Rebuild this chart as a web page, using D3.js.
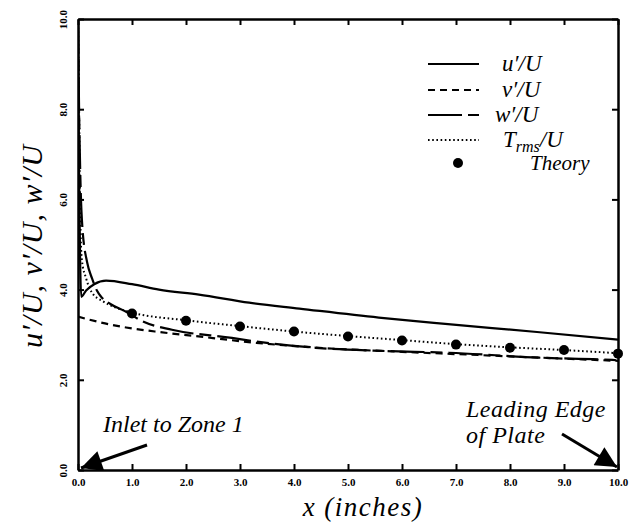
<!DOCTYPE html>
<html>
<head>
<meta charset="utf-8">
<script src="https://cdn.jsdelivr.net/npm/d3@7"></script>
<style>
	body { margin: 0; background: #fff; }
	svg { display: block; }
	text { font-family: "Liberation Serif", "Times New Roman", serif; fill: #000; }
</style>
</head>
<body>
<script>

// data (x in inches, value)
var xTicks = [0, 1, 2, 3, 4, 5, 6, 7, 8, 9, 10]
var yTicks = [0, 2, 4, 6, 8, 10]

var uPrime = [[0, 9.8], [0.02, 6.5], [0.04, 4.6], [0.06, 3.84], [0.15, 3.98], [0.3, 4.12], [0.52, 4.2],
	[1.0, 4.12], [1.5, 4.0], [2.24, 3.89], [3.17, 3.71], [4.1, 3.58], [5.57, 3.38], [6.8, 3.24],
	[8.5, 3.06], [10, 2.89]]

var vPrime = [[0, 3.4], [0.5, 3.25], [0.89, 3.16], [1.5, 3.06], [2.1, 2.98], [3.3, 2.82], [4.6, 2.7],
	[6, 2.62], [7, 2.57], [8, 2.52], [9, 2.47], [10, 2.42]]

var wPrime = [[0, 10], [0.02, 8], [0.05, 6.2], [0.08, 5.4], [0.17, 4.6], [0.26, 4.25], [0.35, 3.98],
	[0.43, 3.84], [0.6, 3.68], [0.89, 3.51], [1.19, 3.3], [1.74, 3.11], [2.85, 2.93], [3.35, 2.84],
	[4.4, 2.71], [5.63, 2.64], [6.87, 2.6], [8.54, 2.49], [9.9, 2.44], [10, 2.43]]

var tRms = [[0, 10], [0.02, 8], [0.04, 5.8], [0.07, 4.67], [0.15, 4.25], [0.26, 3.93], [0.45, 3.75],
	[0.7, 3.6], [1, 3.49], [2, 3.32], [3, 3.19], [4, 3.07], [5, 2.97], [6, 2.88], [7, 2.79],
	[8, 2.72], [9, 2.66], [10, 2.59]]

var theoryX = [1, 2, 3, 4, 5, 6, 7, 8, 9, 10]
var theoryY = [3.47, 3.31, 3.18, 3.07, 2.96, 2.87, 2.78, 2.71, 2.66, 2.58]

var legendItems = [
	{ "name": "u", "dash": null },
	{ "name": "v", "dash": "7,5" },
	{ "name": "w", "dash": "34,6,12,6" },
	{ "name": "T", "dash": "1.6,2.6" },
	{ "name": "Theory", "dash": "dot" }]


window.onload = function WindowLoad(event) {
	DrawChart()
}

function DrawChart(){

	var svg = d3.select("body").append("svg")
		.attr("width", 630)
		.attr("height", 527)

	var x = d3.scaleLinear().domain([0, 10]).range([78, 618])
	var y = d3.scaleLinear().domain([0, 10]).range([470, 19])

	svg.append("defs").append("clipPath").attr("id", "plotclip")
		.append("rect").attr("x", 78).attr("y", 19).attr("width", 540).attr("height", 451)

	var fmt = d3.format(".1f")

	//AXES - ticks point inward
	var bottom = svg.append("g").attr("transform", "translate(0,470)")
		.call(d3.axisBottom(x).tickValues(xTicks).tickSizeInner(-6).tickSizeOuter(0).tickFormat(fmt))
	bottom.selectAll("text")
		.attr("y", 8).attr("dy", "0.71em")
		.style("font-size", "11px").style("font-weight", "bold")

	var top = svg.append("g").attr("transform", "translate(0,19)")
		.call(d3.axisTop(x).tickValues(xTicks).tickSizeInner(-6).tickSizeOuter(0).tickFormat(""))

	var left = svg.append("g").attr("transform", "translate(78,0)")
		.call(d3.axisLeft(y).tickValues(yTicks).tickSizeInner(-6).tickSizeOuter(0).tickFormat(fmt))
	left.selectAll("text")
		.attr("transform", "rotate(-90)")
		.attr("x", 0).attr("y", -11).attr("dy", 0)
		.style("text-anchor", "middle")
		.style("font-size", "11px").style("font-weight", "bold")

	var right = svg.append("g").attr("transform", "translate(618,0)")
		.call(d3.axisRight(y).tickValues(yTicks).tickSizeInner(-6).tickSizeOuter(0).tickFormat(""))

	svg.selectAll(".domain").style("stroke", "#000").style("stroke-width", 2.5)
	svg.selectAll(".tick line").style("stroke", "#000").style("stroke-width", 2)

	//CURVES
	var line = d3.line()
		.x(function(d){ return x(d[0]) })
		.y(function(d){ return y(d[1]) })
		.curve(d3.curveMonotoneX)

	var curves = [
		{ "data": uPrime, "dash": null, "w": 2.2 },
		{ "data": vPrime, "dash": "7,5", "w": 2.2 },
		{ "data": wPrime, "dash": "34,6,12,6", "w": 2.2 },
		{ "data": tRms, "dash": "1.6,2.6", "w": 2 }]

	var plot = svg.append("g").attr("clip-path", "url(#plotclip)")

	plot.selectAll("path.curve")
		.data(curves)
		.enter()
		.append("path")
		.attr("class", "curve")
		.attr("d", function(d){ return line(d.data) })
		.style("fill", "none")
		.style("stroke", "#000")
		.style("stroke-width", function(d){ return d.w })
		.style("stroke-dasharray", function(d){ return d.dash })

	svg.selectAll("circle.theory")
		.data(theoryX)
		.enter()
		.append("circle")
		.attr("class", "theory")
		.attr("cx", function(d){ return x(d) })
		.attr("cy", function(d, i){ return y(theoryY[i]) })
		.attr("r", 5)
		.style("fill", "#000")

	//LEGEND
	var legend = svg.append("g")
	var rowY = [64, 90, 115, 140, 163]
	legendItems.forEach(function(d, i){
		if (d.dash === "dot") {
			legend.append("circle").attr("cx", 458).attr("cy", rowY[i]).attr("r", 5).style("fill", "#000")
		} else {
			legend.append("line")
				.attr("x1", 428).attr("x2", 479)
				.attr("y1", rowY[i]).attr("y2", rowY[i])
				.style("stroke", "#000").style("stroke-width", 2)
				.style("stroke-dasharray", d.dash)
		}
	})

	var lt = legend.append("g").style("font-size", "23px").style("font-style", "italic")
	var t
	t = lt.append("text").attr("x", 502).attr("y", 71)
	t.append("tspan").text("u′/U")
	t = lt.append("text").attr("x", 502).attr("y", 97)
	t.append("tspan").text("v′/U")
	t = lt.append("text").attr("x", 495).attr("y", 122)
	t.append("tspan").text("w′/U")
	t = lt.append("text").attr("x", 503).attr("y", 147)
	t.append("tspan").text("T")
	t.append("tspan").attr("dy", 5).style("font-size", "16px").text("rms")
	t.append("tspan").attr("dy", -5).text("/U")
	lt.append("text").attr("x", 530).attr("y", 170).style("font-size", "21px").text("Theory")

	//ANNOTATIONS
	var defs = svg.select("defs")
	defs.append("marker")
		.attr("id", "head")
		.attr("viewBox", "0 0 10 10")
		.attr("refX", 10).attr("refY", 5)
		.attr("markerWidth", 9).attr("markerHeight", 7)
		.attr("markerUnits", "strokeWidth")
		.attr("orient", "auto")
		.append("path").attr("d", "M0,0 L10,5 L0,10 Z").style("fill", "#000")

	svg.append("line")
		.attr("x1", 147).attr("y1", 445).attr("x2", 81).attr("y2", 468)
		.style("stroke", "#000").style("stroke-width", 3)
		.attr("marker-end", "url(#head)")

	svg.append("line")
		.attr("x1", 562).attr("y1", 434).attr("x2", 617).attr("y2", 467)
		.style("stroke", "#000").style("stroke-width", 3)
		.attr("marker-end", "url(#head)")

	var ann = svg.append("g").style("font-size", "24px").style("font-style", "italic")
	ann.append("text").attr("x", 103).attr("y", 432).text("Inlet to Zone 1")
	ann.append("text").attr("x", 466).attr("y", 417).style("letter-spacing", "0.5px").text("Leading Edge")
	ann.append("text").attr("x", 466).attr("y", 443).style("letter-spacing", "0.5px").text("of Plate")

	//AXIS TITLES
	svg.append("text")
		.attr("x", 363).attr("y", 516)
		.style("text-anchor", "middle")
		.style("font-size", "27px").style("font-style", "italic")
		.style("letter-spacing", "1.5px")
		.text("x (inches)")

	svg.append("text")
		.attr("transform", "translate(42,246) rotate(-90)")
		.style("text-anchor", "middle")
		.style("font-size", "30px").style("font-style", "italic")
		.style("letter-spacing", "1px")
		.text("u′/U, v′/U, w′/U")
}

</script>
</body>
</html>
